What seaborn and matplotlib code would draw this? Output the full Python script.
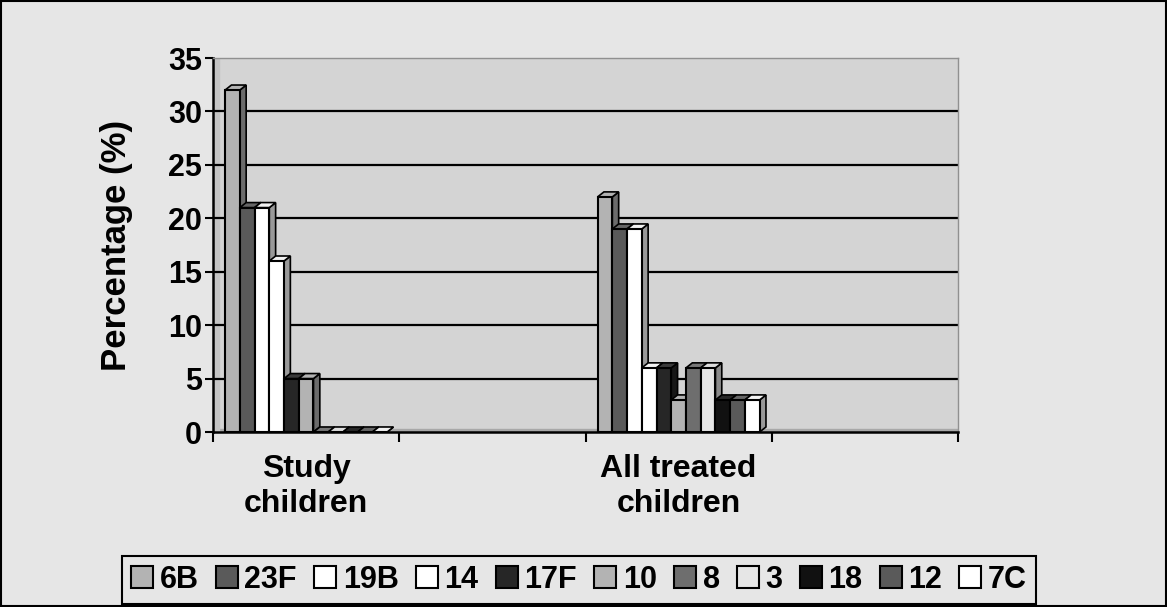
import numpy as np
import pandas as pd
import matplotlib
matplotlib.use("Agg")
import matplotlib.pyplot as plt
import matplotlib.patches as mpatches
import matplotlib.colors as mcolors
import seaborn as sns

# Data
groups = ["Study children", "All treated children"]
serotypes = ["6B", "23F", "19B", "14", "17F", "10", "8", "3", "18", "12", "7C"]
study_children = [32, 21, 21, 16, 5, 5, 0, 0, 0, 0, 0]
all_treated = [22, 19, 19, 6, 6, 3, 6, 6, 3, 3, 3]
colors = ["#b3b3b3", "#5a5a5a", "#ffffff", "#ffffff", "#262626", "#b3b3b3",
          "#6e6e6e", "#e6e6e6", "#111111", "#5a5a5a", "#ffffff"]
slot_order = ["Study children", "gap1", "All treated children", "gap2"]
xtick_labels = ["Study\nchildren", "All treated\nchildren"]

df = pd.DataFrame({
    "group": [groups[0]] * len(serotypes) + [groups[1]] * len(serotypes),
    "serotype": serotypes * 2,
    "pct": study_children + all_treated,
})

sns.set_style("white")
plt.rcParams["font.family"] = ["Liberation Sans", "DejaVu Sans"]
plt.rcParams["font.weight"] = "bold"
plt.rcParams["text.color"] = "black"
plt.rcParams["axes.labelcolor"] = "black"
plt.rcParams["xtick.color"] = "black"
plt.rcParams["ytick.color"] = "black"

fig = plt.figure(figsize=(11.67, 6.07), dpi=100, facecolor="#e6e6e6")
ax = fig.add_axes([213 / 1167, 1 - 432 / 607, (958 - 213) / 1167, (432 - 58) / 607])
ax.set_facecolor("#d4d4d4")

sns.barplot(data=df, x="group", y="pct", hue="serotype", order=slot_order,
            hue_order=serotypes, palette=colors, width=0.87, errorbar=None,
            edgecolor="black", linewidth=1.5, saturation=1, legend=False, ax=ax)

# fake 3D depth on each bar
dx, dy = 0.034, 0.47
bars = sorted([p for p in ax.patches if isinstance(p, mpatches.Rectangle)],
              key=lambda p: p.get_x())
for i, p in enumerate(bars):
    x0, w, h = p.get_x(), p.get_width(), p.get_height()
    fc = np.array(mcolors.to_rgb(p.get_facecolor()))
    z = 3 + i * 0.01
    side = mpatches.Polygon([(x0 + w, 0), (x0 + w + dx, dy), (x0 + w + dx, h + dy), (x0 + w, h)],
                            closed=True, facecolor=fc * 0.6, edgecolor="black", lw=1.2, zorder=z)
    top = mpatches.Polygon([(x0, h), (x0 + dx, h + dy), (x0 + w + dx, h + dy), (x0 + w, h)],
                           closed=True, facecolor=np.clip(fc * 0.85 + 0.1, 0, 1),
                           edgecolor="black", lw=1.2, zorder=z)
    ax.add_patch(side)
    ax.add_patch(top)
    p.set_zorder(z + 0.005)

# floor and side wall
ax.axhspan(0, dy * 0.6, color="#a8a8a8", zorder=1)
ax.axvspan(-0.5, -0.5 + dx, color="#c4c4c4", zorder=1)

ax.set_xlim(-0.5, 3.5)
ax.set_ylim(0, 35)
ax.set_yticks(range(0, 36, 5))
for yv in range(5, 35, 5):
    ax.axhline(yv, color="black", lw=1.6, zorder=1.5)

ax.set_xticks([-0.5, 0.5, 1.5, 2.5, 3.5], labels=[""] * 5)
ax.set_xticks([0, 2], labels=xtick_labels, minor=True)
ax.tick_params(axis="x", which="minor", bottom=False, length=0, pad=16, labelsize=23)
ax.tick_params(axis="x", which="major", bottom=True, direction="out", length=7, width=1.5,
               color="black")
ax.tick_params(axis="y", left=True, direction="out", length=6, width=1.5, color="black",
               labelsize=22, pad=2)
for lab in ax.get_xticklabels(minor=True):
    lab.set_fontweight("bold")
    lab.set_linespacing(1.2)
for lab in ax.get_yticklabels():
    lab.set_fontweight("bold")

ax.set_xlabel("")
ax.set_ylabel("Percentage (%)", fontsize=25, fontweight="bold", labelpad=25)

for s in ["left", "bottom"]:
    ax.spines[s].set_color("black")
    ax.spines[s].set_linewidth(1.8)
for s in ["top", "right"]:
    ax.spines[s].set_color("#909090")
    ax.spines[s].set_linewidth(1)

handles = [mpatches.Patch(facecolor=c, edgecolor="black", lw=1.5) for c in colors]
leg = fig.legend(handles, serotypes, loc="lower center", bbox_to_anchor=(579 / 1167, 3 / 607),
                 ncol=len(serotypes), frameon=True, fancybox=False, edgecolor="black",
                 facecolor="#e6e6e6", framealpha=1, prop={"size": 22, "weight": "bold"},
                 handlelength=0.72, handleheight=0.72, handletextpad=0.22,
                 columnspacing=0.56, borderpad=0.3, borderaxespad=0)
leg.get_frame().set_linewidth(1.5)

fig.add_artist(mpatches.Rectangle((0.001, 0.002), 0.998, 0.996, transform=fig.transFigure,
                                  fill=False, edgecolor="black", lw=1.5))

fig.savefig("out.png", dpi=100, facecolor=fig.get_facecolor())
